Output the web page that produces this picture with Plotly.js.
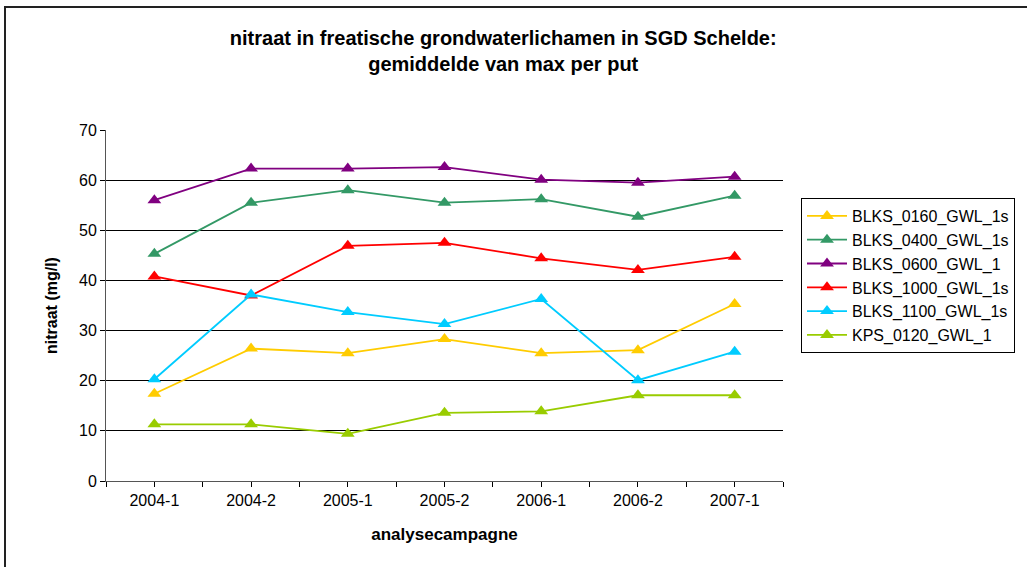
<!DOCTYPE html>
<html>
<head>
<meta charset="utf-8">
<script src="https://cdn.plot.ly/plotly-3.0.1.min.js"></script>
<style>
html,body{margin:0;padding:0;background:#fff;}
#chart{width:1027px;height:567px;}
</style>
</head>
<body>
<div id="chart"></div>
<script>
const categories = ["2004-1","2004-2","2005-1","2005-2","2006-1","2006-2","2007-1"];
const seriesNames = ["BLKS_0160_GWL_1s","BLKS_0400_GWL_1s","BLKS_0600_GWL_1","BLKS_1000_GWL_1s","BLKS_1100_GWL_1s","KPS_0120_GWL_1"];
const blks0160 = [17.4, 26.4, 25.5, 28.3, 25.5, 26.1, 35.3];
const blks0400 = [45.3, 55.5, 58.0, 55.5, 56.2, 52.7, 56.9];
const blks0600 = [56.0, 62.3, 62.3, 62.6, 60.1, 59.5, 60.7];
const blks1000 = [40.8, 37.0, 46.9, 47.5, 44.4, 42.1, 44.7];
const blks1100 = [20.3, 37.2, 33.7, 31.3, 36.3, 20.1, 25.8];
const kps0120  = [11.3, 11.3, 9.4, 13.6, 13.9, 17.1, 17.1];
const colors = ["#FFCC00","#339966","#800080","#FF0000","#00CCFF","#99CC00"];
const seriesValues = [blks0160, blks0400, blks0600, blks1000, blks1100, kps0120];

const xIdx = categories.map((c,i)=>i);
const traces = seriesValues.map((vals, k) => ({
  type: 'scatter', mode: 'lines+markers',
  name: seriesNames[k], legendgroup: 'g'+k,
  x: xIdx, y: vals,
  line: {color: colors[k], width: 1.8},
  marker: {symbol: 'triangle-up', size: 12, color: colors[k]},
  hoverinfo: 'skip'
}));

// ticks every half category: labels at centres, empty at boundaries
const tickvals = [], ticktext = [];
for (let i = 0; i < categories.length; i++) {
  tickvals.push(i - 0.5); ticktext.push('');
  tickvals.push(i); ticktext.push(categories[i]);
}
tickvals.push(categories.length - 0.5); ticktext.push('');

const font = 'Liberation Sans, Arial, sans-serif';
const layout = {
  width: 1027, height: 567,
  paper_bgcolor: '#fff', plot_bgcolor: '#fff',
  margin: {l: 106, r: 244, t: 130, b: 86, pad: 0, autoexpand: false},
  font: {family: font, size: 16, color: '#000'},
  title: {
    text: '<b>nitraat in freatische grondwaterlichamen in SGD Schelde:<br>gemiddelde van max per put</b>',
    font: {family: font, size: 20, color: '#000'},
    x: 0.49, xanchor: 'center', y: 0.921, yanchor: 'top'
  },
  xaxis: {
    range: [-0.5, categories.length - 0.5],
    tickmode: 'array', tickvals: tickvals, ticktext: ticktext,
    ticks: 'outside', ticklen: 5, tickcolor: '#000', tickwidth: 1,
    showgrid: false, zeroline: false,
    showline: true, linecolor: '#555', linewidth: 1,
    tickfont: {family: font, size: 16, color: '#000'},
    title: {text: '<b>analysecampagne</b>', font: {family: font, size: 17, color: '#000'}, standoff: 19}
  },
  yaxis: {
    range: [0, 70], dtick: 10, tick0: 0,
    ticks: 'outside', ticklen: 5, tickcolor: '#000', tickwidth: 1,
    showgrid: true, gridcolor: '#000', gridwidth: 1,
    zeroline: false,
    showline: true, linecolor: '#555', linewidth: 1,
    tickfont: {family: font, size: 16, color: '#000'},
    title: {text: '<b>nitraat (mg/l)</b>', font: {family: font, size: 16, color: '#000'}, standoff: 17}
  },
  showlegend: true,
  legend: {
    x: (801-106)/677, xanchor: 'left',
    y: (481-198)/351, yanchor: 'top',
    bordercolor: '#000', borderwidth: 1, bgcolor: '#fff',
    font: {family: font, size: 16, color: '#000'},
    tracegroupgap: 0, itemwidth: 40
  },
  shapes: [{
    type: 'rect', xref: 'paper', yref: 'paper',
    x0: (5-106)/677, x1: 1.5, y0: -0.5, y1: (481-7)/351,
    line: {color: '#222', width: 2}, fillcolor: 'rgba(0,0,0,0)', layer: 'below'
  }]
};

Plotly.newPlot('chart', traces, layout, {displayModeBar: false, staticPlot: true});
</script>
</body>
</html>
